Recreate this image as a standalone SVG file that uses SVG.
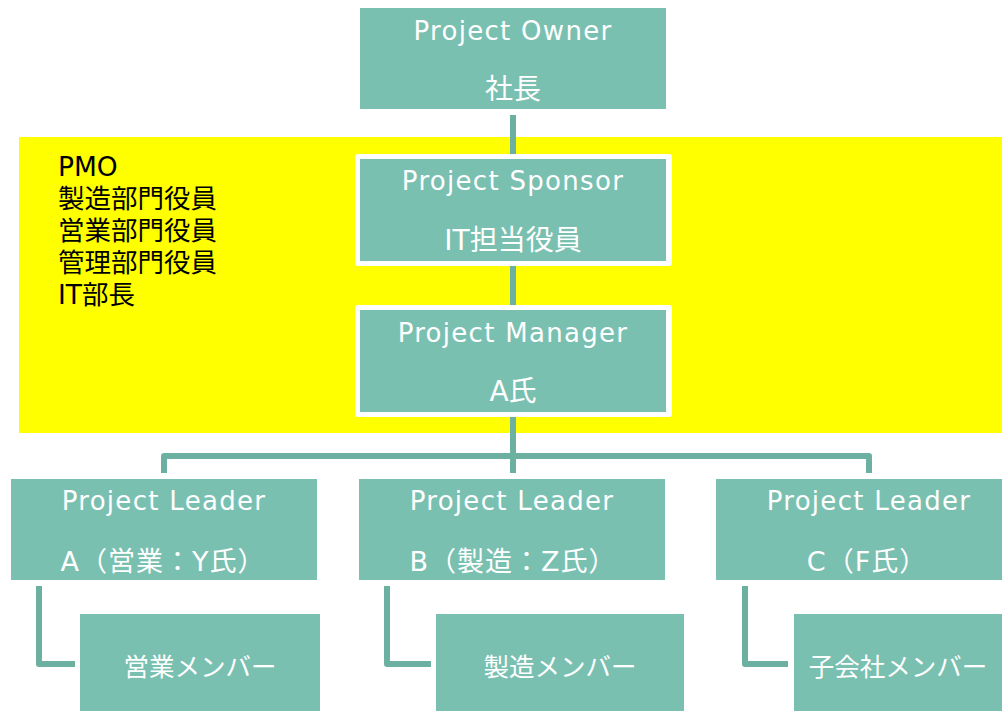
<svg xmlns="http://www.w3.org/2000/svg" width="1002" height="711" viewBox="0 0 1002 711">
<style>
.box{fill:#7ac0b1;}
.wb{fill:#ffffff;}
.t{font-family:"DejaVu Sans","Noto Sans CJK JP",sans-serif;font-size:26px;fill:#ffffff;text-anchor:middle;}
.lat{letter-spacing:1.3px;}
.cjk{font-size:28px;}
.mix{font-size:27px;letter-spacing:1px;}
.mem{font-size:25.5px;}
.k{font-family:"DejaVu Sans","Noto Sans CJK JP",sans-serif;font-size:26.5px;fill:#000000;}
.c{fill:none;stroke:#6cb0a2;stroke-width:6;}
</style>
<rect x="0" y="0" width="1002" height="711" fill="#ffffff"/>
<rect id="pmo-area" x="19" y="137" width="983" height="296" fill="#ffff00"/>
<g id="pmo-text" class="k">
<text x="58" y="176">PMO</text>
<text x="58" y="208">製造部門役員</text>
<text x="58" y="240">営業部門役員</text>
<text x="58" y="272">管理部門役員</text>
<text x="58" y="304">IT部長</text>
</g>
<g id="connectors">
<path class="c" d="M513 115 V156"/>
<path class="c" d="M513 264 V308"/>
<path class="c" d="M513 415 V473"/>
<path class="c" stroke-linejoin="round" d="M164 473 V456 H869 V473"/>
<path class="c" stroke-linejoin="round" d="M39 586 V664 H75"/>
<path class="c" stroke-linejoin="round" d="M387 586 V664 H431"/>
<path class="c" stroke-linejoin="round" d="M745 586 V664 H788"/>
</g>
<g id="owner">
<rect class="box" x="360" y="8" width="306" height="101"/>
<text class="t lat" x="513" y="40">Project Owner</text>
<text class="t cjk" x="513" y="99">社長</text>
</g>
<g id="sponsor">
<rect class="wb" x="355" y="154" width="317" height="112" rx="3"/>
<rect class="box" x="360" y="159" width="306" height="102"/>
<text class="t lat" x="513" y="190">Project Sponsor</text>
<text class="t cjk" x="513" y="250">IT担当役員</text>
</g>
<g id="manager">
<rect class="wb" x="355" y="305" width="317" height="112" rx="3"/>
<rect class="box" x="360" y="310" width="306" height="102"/>
<text class="t lat" x="513" y="342">Project Manager</text>
<text class="t cjk" x="513" y="401">A氏</text>
</g>
<g id="leader-a">
<rect class="box" x="11" y="479" width="306" height="101"/>
<text class="t lat" x="164" y="510">Project Leader</text>
<text class="t mix" x="163" y="571">A（営業：Y氏）</text>
</g>
<g id="leader-b">
<rect class="box" x="359" y="479" width="306" height="101"/>
<text class="t lat" x="512" y="510">Project Leader</text>
<text class="t mix" x="513" y="571">B（製造：Z氏）</text>
</g>
<g id="leader-c">
<rect class="box" x="716" y="479" width="286" height="101"/>
<text class="t lat" x="869" y="510">Project Leader</text>
<text class="t mix" x="867" y="571">C（F氏）</text>
</g>
<g id="member-a">
<rect class="box" x="80" y="614" width="240" height="97"/>
<text class="t mem" x="200" y="676">営業メンバー</text>
</g>
<g id="member-b">
<rect class="box" x="436" y="614" width="248" height="97"/>
<text class="t mem" x="560" y="676">製造メンバー</text>
</g>
<g id="member-c">
<rect class="box" x="794" y="614" width="208" height="97"/>
<text class="t mem" x="898" y="676">子会社メンバー</text>
</g>
</svg>
